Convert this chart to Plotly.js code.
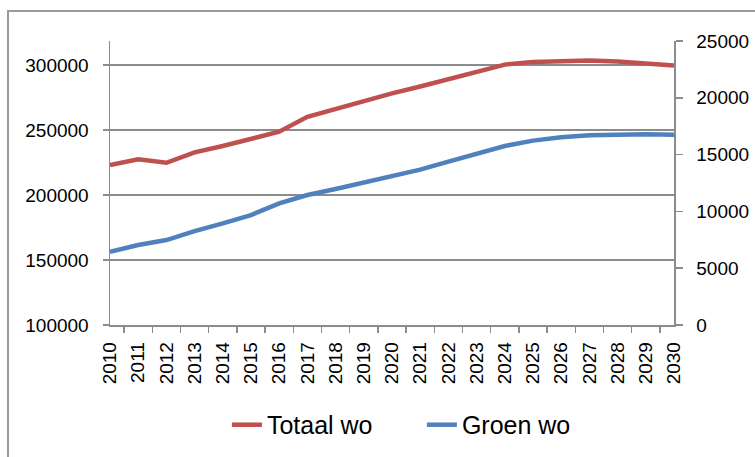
<!DOCTYPE html>
<html>
<head>
<meta charset="utf-8">
<script src="https://cdn.plot.ly/plotly-3.0.1.min.js"></script>
<style>
  html, body { margin: 0; padding: 0; background: #fff; }
  #wrap { position: relative; width: 755px; height: 457px; overflow: hidden; }
  #chart { position: absolute; left: 0; top: 0; width: 755px; height: 457px; }
  #frame { position: absolute; left: 7px; top: 10px; width: 760px; height: 460px;
           border-top: 2px solid #9a9a9a; border-left: 2px solid #9a9a9a; pointer-events: none; }
</style>
</head>
<body>
<div id="wrap">
  <div id="chart"></div>
  <div id="frame"></div>
</div>
<script>
const years = ["2010","2011","2012","2013","2014","2015","2016","2017","2018","2019","2020",
               "2021","2022","2023","2024","2025","2026","2027","2028","2029","2030"];
const totaalWo = [223000, 227500, 224800, 232800, 237700, 242800, 248700, 260200, 266200, 272400, 278200,
                  283500, 289300, 295000, 300300, 302400, 303300, 303500, 302700, 301400, 299600];
const groenWo = [6450, 7040, 7480, 8270, 8950, 9680, 10710, 11440, 11970, 12530, 13080,
                 13680, 14380, 15110, 15760, 16230, 16520, 16700, 16790, 16790, 16750];
const seriesNames = ["Totaal wo", "Groen wo"];

const FONT = "Liberation Sans, Arial, sans-serif";
const AX = "#8c8c8c";

const traces = [
  { x: years, y: totaalWo, name: seriesNames[0], type: "scatter", mode: "lines",
    line: { color: "#C0504D", width: 4.5 }, yaxis: "y" },
  { x: years, y: groenWo, name: seriesNames[1], type: "scatter", mode: "lines",
    line: { color: "#4F81BD", width: 4.5 }, yaxis: "y2" }
];

const layout = {
  width: 755, height: 457,
  margin: { l: 110, r: 81, t: 41, b: 132, autoexpand: false },
  paper_bgcolor: "#fff", plot_bgcolor: "#fff",
  font: { family: FONT, size: 19, color: "#000" },
  showlegend: true,
  legend: { orientation: "h", x: 0.553, xanchor: "center", y: -0.352, yanchor: "middle",
            font: { family: FONT, size: 25, color: "#000" },
            entrywidth: 150, entrywidthmode: "pixels", tracegroupgap: 0 },
  xaxis: {
    type: "category", tickangle: -90, tickson: "boundaries",
    ticks: "outside", ticklen: 6, tickcolor: AX, tickwidth: 1.5,
    showline: true, linecolor: AX, linewidth: 1.5, showgrid: false, zeroline: false,
    ticklabelstandoff: 8, tickfont: { family: FONT, size: 19 }, fixedrange: true
  },
  yaxis: {
    range: [100000, 318462], tickvals: [100000, 150000, 200000, 250000, 300000],
    ticks: "outside", ticklen: 6, tickcolor: AX, tickwidth: 1.5,
    showline: true, linecolor: AX, linewidth: 1.5,
    showgrid: true, gridcolor: AX, gridwidth: 1.5, zeroline: false,
    ticklabelstandoff: 10, tickformat: "d", tickfont: { family: FONT, size: 19 }
  },
  yaxis2: {
    range: [0, 25000], tickvals: [0, 5000, 10000, 15000, 20000, 25000],
    overlaying: "y", side: "right",
    ticks: "outside", ticklen: 7, tickcolor: AX, tickwidth: 1.5,
    showline: true, linecolor: AX, linewidth: 1.5, showgrid: false, zeroline: false,
    ticklabelstandoff: 10, tickformat: "d", tickfont: { family: FONT, size: 19 }
  }
};

Plotly.newPlot("chart", traces, layout, { staticPlot: true, displayModeBar: false });
</script>
</body>
</html>
